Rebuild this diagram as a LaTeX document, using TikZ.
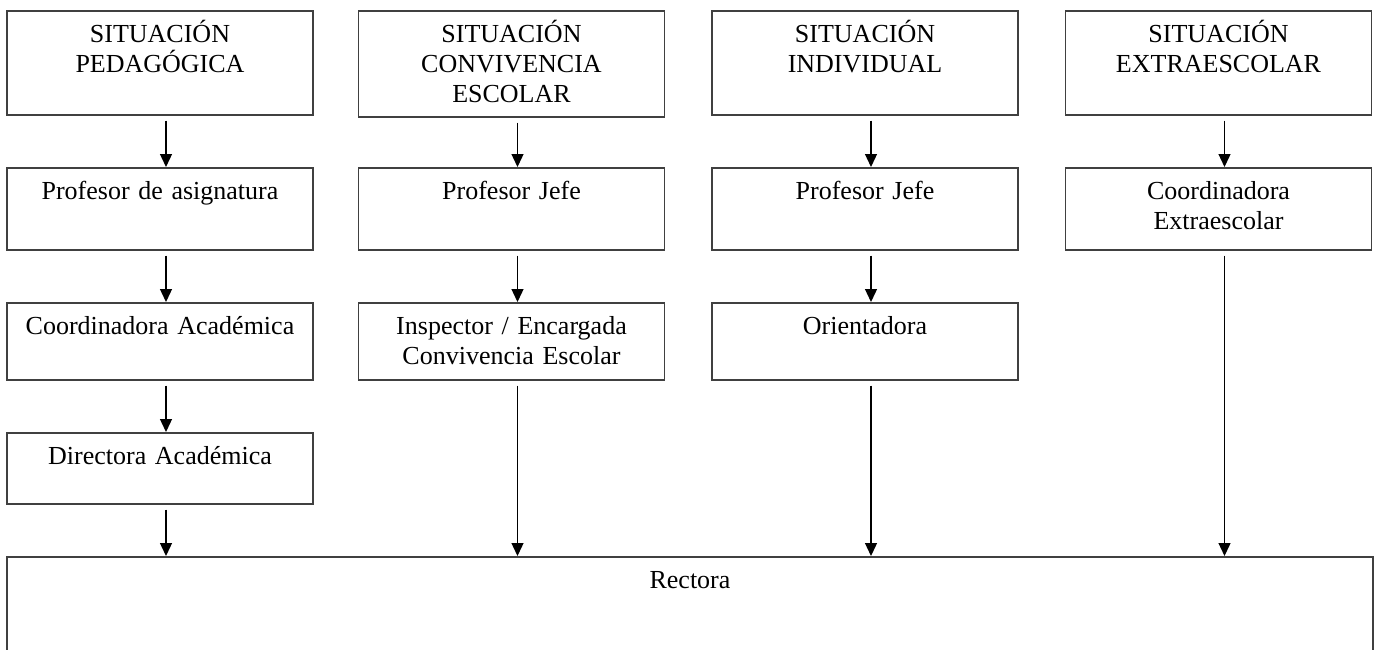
\documentclass[tikz,border=0pt]{standalone}
\usepackage{fontspec}
\setmainfont{Liberation Serif}
\usetikzlibrary{arrows.meta}
\begin{document}
\begin{tikzpicture}[x=1pt,y=-1pt,
    box/.style={draw=black!75,line width=1.5pt,inner sep=0pt,anchor=north,
      text width=306pt,align=center,text height=32pt,text depth=#1,
      font=\fontsize{26}{30}\selectfont},
    >={Triangle[length=13pt,width=12pt]}]
  \clip (0,0) rectangle (1375,649);
  \path
    (160,10) node[box=72pt] (p0){SITUACIÓN\\PEDAGÓGICA}
    (160,167) node[box=50pt] (p1){Profesor de asignatura}
    (160,302) node[box=45pt] (p2){Coordinadora Académica}
    (160,432) node[box=39pt] (p3){Directora Académica}
    (511.5,10) node[box=74pt] (c0){SITUACIÓN\\CONVIVENCIA\\ESCOLAR}
    (511.5,167) node[box=50pt] (c1){Profesor Jefe}
    (511.5,302) node[box=45pt] (c2){Inspector / Encargada\\Convivencia Escolar}
    (865,10) node[box=72pt] (i0){SITUACIÓN\\INDIVIDUAL}
    (865,167) node[box=50pt] (i1){Profesor Jefe}
    (865,302) node[box=45pt] (i2){Orientadora}
    (1218.5,10) node[box=72pt] (e0){SITUACIÓN\\EXTRAESCOLAR}
    (1218.5,167) node[box=50pt] (e1){Coordinadora\\Extraescolar}
    (690,556) node[box=150pt,text width=1366pt] (r){Rectora};
  \begin{scope}[->,line width=1.3pt,shorten <=5pt]
    \draw ([xshift=6pt]p0.south) -- ([xshift=6pt]p1.north);
    \draw ([xshift=6pt]p1.south) -- ([xshift=6pt]p2.north);
    \draw ([xshift=6pt]p2.south) -- ([xshift=6pt]p3.north);
    \draw ([xshift=6pt]p3.south) -- ([xshift=6pt]p3.south |- r.north);
    \draw ([xshift=6pt]c0.south) -- ([xshift=6pt]c1.north);
    \draw ([xshift=6pt]c1.south) -- ([xshift=6pt]c2.north);
    \draw ([xshift=6pt]c2.south) -- ([xshift=6pt]c2.south |- r.north);
    \draw ([xshift=6pt]i0.south) -- ([xshift=6pt]i1.north);
    \draw ([xshift=6pt]i1.south) -- ([xshift=6pt]i2.north);
    \draw ([xshift=6pt]i2.south) -- ([xshift=6pt]i2.south |- r.north);
    \draw ([xshift=6pt]e0.south) -- ([xshift=6pt]e1.north);
    \draw ([xshift=6pt]e1.south) -- ([xshift=6pt]e1.south |- r.north);
  \end{scope}
\end{tikzpicture}
\end{document}
